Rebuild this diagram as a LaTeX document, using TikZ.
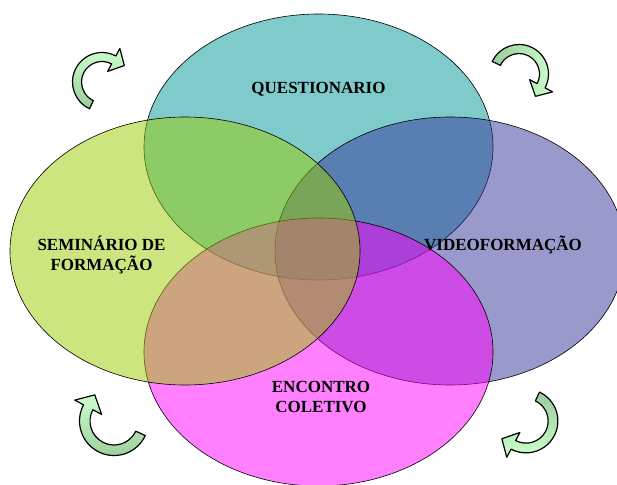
\documentclass[tikz,border=0pt]{standalone}
\usepackage{fontspec}
\setmainfont{Liberation Serif}
\definecolor{topc}{RGB}{0,150,150}
\definecolor{leftc}{RGB}{153,204,0}
\definecolor{rightc}{RGB}{51,51,153}
\definecolor{botc}{RGB}{255,0,255}
\definecolor{arrlight}{RGB}{204,255,204}
\definecolor{arrdark}{RGB}{155,204,155}
\newcommand{\vennarrow}[1]{%
  \path[arrowbody,#1] (245:29.5) arc[start angle=245,end angle=62,radius=29.5]
    -- (62:38) -- (22.34,16.44) -- (62:12) -- (62:20.5)
    arc[start angle=62,end angle=245,radius=20.5] -- cycle;}
\begin{document}
\begin{tikzpicture}[x=1pt,y=1pt,
  venn/.style={draw=black, line width=0.6pt, fill opacity=0.5},
  lbl/.style={font=\bfseries\fontsize{17}{20}\selectfont, align=center, anchor=base, inner sep=0pt},
  arrowbody/.style={draw=black, line width=1.2pt, line join=round}]
\useasboundingbox (0,-484) rectangle (617,0);
\clip (0,-484) rectangle (617,0);
% ellipses
\path[venn, fill=topc]   (318.5,-147) ellipse [x radius=174.5, y radius=133];
\path[venn, fill=rightc] (450,-251)   ellipse [x radius=175, y radius=134];
\path[venn, fill=botc]   (318.5,-352) ellipse [x radius=174.5, y radius=134];
\path[venn, fill=leftc]  (185,-251)   ellipse [x radius=175, y radius=134];
% curved arrows
\begin{scope}[shift={(102,-82)}]
  \vennarrow{top color=arrlight, bottom color=arrdark}
\end{scope}
\begin{scope}[shift={(519,-74)}, rotate=-90]
  \vennarrow{left color=arrdark, right color=arrlight}
\end{scope}
\begin{scope}[shift={(114,-421)}, rotate=90, scale=1.17]
  \vennarrow{top color=arrlight, bottom color=arrdark}
\end{scope}
\begin{scope}[shift={(526,-421)}, rotate=180, scale=1.08]
  \vennarrow{top color=arrdark, bottom color=arrlight}
\end{scope}
% labels
\node[lbl] (q) at (318.5,-93.3) {QUESTIONARIO};
\node[lbl] (s) at (101.5,-270.7) {SEMINÁRIO DE\\FORMAÇÃO};
\node[lbl] (v) at (503,-250) {VIDEOFORMAÇÃO};
\node[lbl] (e) at (321,-412.7) {ENCONTRO\\COLETIVO};
\end{tikzpicture}
\end{document}
